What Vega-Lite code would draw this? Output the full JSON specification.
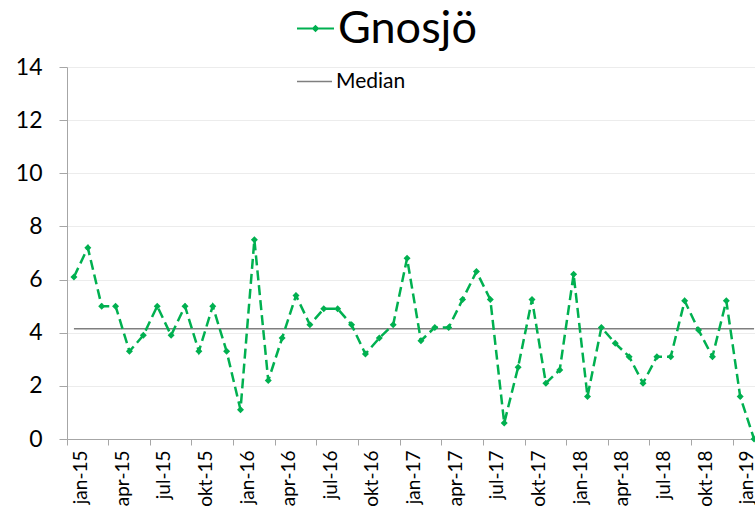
{
  "$schema": "https://vega.github.io/schema/vega-lite/v6.json",
  "width": 688,
  "height": 372,
  "autosize": {"type": "none"},
  "padding": {"left": 67, "top": 67, "right": 0, "bottom": 75},
  "background": "white",
  "config": {
    "view": {"stroke": null},
    "font": "Lato",
    "axis": {"labelFont": "Lato", "labelColor": "#000000"},
    "legend": {"labelFont": "Lato", "labelColor": "#000000", "padding": 0}
  },
  "data": {
    "values": [
      {"month": "jan-15", "value": 6.1}, {"month": "feb-15", "value": 7.2}, {"month": "mar-15", "value": 5.0},
      {"month": "apr-15", "value": 5.0}, {"month": "maj-15", "value": 3.3}, {"month": "jun-15", "value": 3.9},
      {"month": "jul-15", "value": 5.0}, {"month": "aug-15", "value": 3.9}, {"month": "sep-15", "value": 5.0},
      {"month": "okt-15", "value": 3.3}, {"month": "nov-15", "value": 5.0}, {"month": "dec-15", "value": 3.3},
      {"month": "jan-16", "value": 1.1}, {"month": "feb-16", "value": 7.5}, {"month": "mar-16", "value": 2.2},
      {"month": "apr-16", "value": 3.8}, {"month": "maj-16", "value": 5.4}, {"month": "jun-16", "value": 4.3},
      {"month": "jul-16", "value": 4.9}, {"month": "aug-16", "value": 4.9}, {"month": "sep-16", "value": 4.3},
      {"month": "okt-16", "value": 3.2}, {"month": "nov-16", "value": 3.8}, {"month": "dec-16", "value": 4.3},
      {"month": "jan-17", "value": 6.8}, {"month": "feb-17", "value": 3.7}, {"month": "mar-17", "value": 4.2},
      {"month": "apr-17", "value": 4.2}, {"month": "maj-17", "value": 5.25}, {"month": "jun-17", "value": 6.3},
      {"month": "jul-17", "value": 5.25}, {"month": "aug-17", "value": 0.6}, {"month": "sep-17", "value": 2.7},
      {"month": "okt-17", "value": 5.25}, {"month": "nov-17", "value": 2.1}, {"month": "dec-17", "value": 2.6},
      {"month": "jan-18", "value": 6.2}, {"month": "feb-18", "value": 1.6}, {"month": "mar-18", "value": 4.2},
      {"month": "apr-18", "value": 3.6}, {"month": "maj-18", "value": 3.1}, {"month": "jun-18", "value": 2.1},
      {"month": "jul-18", "value": 3.1}, {"month": "aug-18", "value": 3.1}, {"month": "sep-18", "value": 5.2},
      {"month": "okt-18", "value": 4.1}, {"month": "nov-18", "value": 3.1}, {"month": "dec-18", "value": 5.2},
      {"month": "jan-19", "value": 1.6}, {"month": "feb-19", "value": 0}
    ]
  },
  "encoding": {
    "x": {
      "field": "month",
      "type": "ordinal",
      "sort": null,
      "scale": {"type": "band", "paddingInner": 0, "paddingOuter": 0, "range": [0, 694]},
      "axis": {
        "title": null,
        "values": ["jan-15", "apr-15", "jul-15", "okt-15", "jan-16", "apr-16", "jul-16", "okt-16", "jan-17", "apr-17", "jul-17", "okt-17", "jan-18", "apr-18", "jul-18", "okt-18", "jan-19"],
        "bandPosition": 0,
        "labelOffset": 7,
        "labelAngle": -90,
        "labelFontSize": 19,
        "labelPadding": 5,
        "tickSize": 6,
        "tickColor": "#a6a6a6",
        "domainColor": "#a6a6a6",
        "grid": false
      }
    }
  },
  "layer": [
    {
      "transform": [{"joinaggregate": [{"op": "median", "field": "value", "as": "median"}]}],
      "mark": {"type": "line", "color": "#7f7f7f", "strokeWidth": 1.3},
      "encoding": {
        "y": {"field": "median", "type": "quantitative"},
        "opacity": {
          "datum": "Median",
          "scale": {"range": [1]},
          "legend": {
            "orient": "none",
            "legendX": 229,
            "legendY": -4,
            "title": null,
            "symbolType": "M-1,0L1,0",
            "symbolSize": 1225,
            "symbolStrokeColor": "#7f7f7f",
            "symbolStrokeWidth": 1.3,
            "symbolOpacity": 1,
            "labelFontSize": 21,
            "labelOffset": 3,
            "labelLimit": 300
          }
        }
      }
    },
    {
      "mark": {
        "type": "line",
        "strokeWidth": 2.5,
        "strokeDash": [10, 5],
        "point": {"shape": "diamond", "size": 49, "filled": true}
      },
      "encoding": {
        "y": {
          "field": "value",
          "type": "quantitative",
          "scale": {"domain": [0, 14]},
          "axis": {
            "title": null,
            "values": [0, 2, 4, 6, 8, 10, 12, 14],
            "labelFontSize": 23,
            "labelPadding": 17,
            "tickSize": 8,
            "tickColor": "#a6a6a6",
            "domainColor": "#a6a6a6",
            "gridColor": "#ececec",
            "gridWidth": 1
          }
        },
        "color": {
          "datum": "Gnosjö",
          "scale": {"range": ["#00b050"]},
          "legend": {
            "orient": "none",
            "legendX": 226,
            "legendY": -61,
            "title": null,
            "symbolType": "M-1,0L-0.15,0M0.15,0L1,0M0,-0.13L0.13,0L0,0.13L-0.13,0Z",
            "symbolSize": 1369,
            "symbolStrokeColor": "#00b050",
            "symbolFillColor": "#00b050",
            "symbolStrokeWidth": 2,
            "labelFontSize": 45,
            "labelOffset": 0,
            "labelLimit": 400
          }
        }
      }
    }
  ]
}
